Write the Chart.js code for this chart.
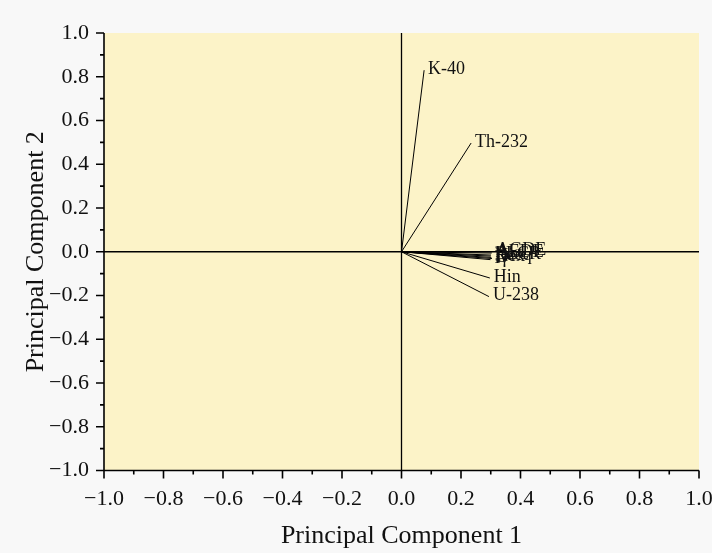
<!DOCTYPE html>
<html>
<head>
<meta charset="utf-8">
<script src="https://cdn.jsdelivr.net/npm/chart.js@4/dist/chart.umd.min.js"></script>
<style>
  html, body { margin: 0; padding: 0; background: #f8f8f8; }
  #wrap { width: 712px; height: 553px; }
</style>
</head>
<body>
<div id="wrap"><canvas id="chart"></canvas></div>
<script>
// loadings
const params = ['K-40', 'Th-232', 'U-238', 'Hin', 'Raeq', 'Hex', 'D', 'AEDE', 'AGDE', 'ELCR', 'Iγ'];
const pc1 = [0.076, 0.234, 0.294, 0.297, 0.300, 0.302, 0.304, 0.303, 0.305, 0.301, 0.299];
const pc2 = [0.830, 0.497, -0.205, -0.120, -0.020, -0.026, -0.031, -0.006, 0.000, -0.015, -0.036];
const axisMin = -1.0;
const axisMax = 1.0;

const serif = '"Liberation Serif", "Times New Roman", serif';

const datasets = params.map((p, i) => ({
    label: p,
    data: [{ x: 0, y: 0 }, { x: pc1[i], y: pc2[i] }],
    showLine: true,
    borderColor: '#000',
    borderWidth: 1,
    pointRadius: 0
}));

const fmt = v => {
    const r = Math.round(v * 10) / 10;
    if (r < 0) return '\u2212' + Math.abs(r).toFixed(1);
    return r.toFixed(1);
};

const frame = {
    id: 'frame',
    beforeDraw(chart) {
        const { ctx, chartArea: a } = chart;
        ctx.save();
        ctx.fillStyle = '#fcf3c8';
        ctx.fillRect(a.left, a.top, a.right - a.left, a.bottom - a.top);
        ctx.restore();
    },
    afterDatasetsDraw(chart) {
        const { ctx, chartArea: a, scales } = chart;
        const x = scales.x, y = scales.y;
        ctx.save();
        ctx.strokeStyle = '#000';
        ctx.lineWidth = 1.3;
        // zero lines
        const x0 = x.getPixelForValue(0), y0 = y.getPixelForValue(0);
        ctx.beginPath();
        ctx.moveTo(a.left, y0); ctx.lineTo(a.right, y0);
        ctx.moveTo(x0, a.top); ctx.lineTo(x0, a.bottom);
        ctx.stroke();
        // axis lines + ticks
        ctx.lineWidth = 1.6;
        ctx.beginPath();
        ctx.moveTo(a.left, a.top); ctx.lineTo(a.left, a.bottom); ctx.lineTo(a.right, a.bottom);
        for (let k = -10; k <= 10; k++) {
            const len = k % 2 === 0 ? 8 : 4;
            const px = x.getPixelForValue(k / 10);
            ctx.moveTo(px, a.bottom); ctx.lineTo(px, a.bottom + len);
            const py = y.getPixelForValue(k / 10);
            ctx.moveTo(a.left, py); ctx.lineTo(a.left - len, py);
        }
        ctx.stroke();
        // vector labels
        ctx.fillStyle = '#111';
        ctx.font = '18px ' + serif;
        ctx.textAlign = 'left';
        ctx.textBaseline = 'middle';
        params.forEach((p, i) => {
            const px = x.getPixelForValue(pc1[i]);
            const py = y.getPixelForValue(pc2[i]);
            ctx.fillText(p, px + 4, py - 1);
        });
        ctx.restore();
    }
};

new Chart(document.getElementById('chart'), {
    type: 'scatter',
    data: { datasets: datasets },
    options: {
        responsive: true,
        maintainAspectRatio: false,
        animation: false,
        layout: { padding: { top: 33, right: 13, left: 0, bottom: 0 } },
        plugins: { legend: { display: false }, tooltip: { enabled: false } },
        scales: {
            x: {
                min: axisMin, max: axisMax,
                afterFit: s => { s.height = 82.5; s.paddingLeft = 0; s.paddingRight = 0; },
                grid: { display: false },
                border: { display: false },
                ticks: { stepSize: 0.2, padding: 8, color: '#111', font: { family: serif, size: 22 }, callback: fmt, maxRotation: 0 },
                title: { display: true, text: 'Principal Component 1', color: '#111', font: { family: serif, size: 26 }, padding: { top: 12, bottom: 1 } }
            },
            y: {
                min: axisMin, max: axisMax,
                afterFit: s => { s.width = 104; s.paddingTop = 0; s.paddingBottom = 0; },
                grid: { display: false },
                border: { display: false },
                ticks: { stepSize: 0.2, padding: 7, color: '#111', font: { family: serif, size: 22 }, callback: fmt },
                title: { display: true, text: 'Principal Component 2', color: '#111', font: { family: serif, size: 26 }, padding: { top: 21, bottom: 2 } }
            }
        }
    },
    plugins: [frame]
});
</script>
</body>
</html>
